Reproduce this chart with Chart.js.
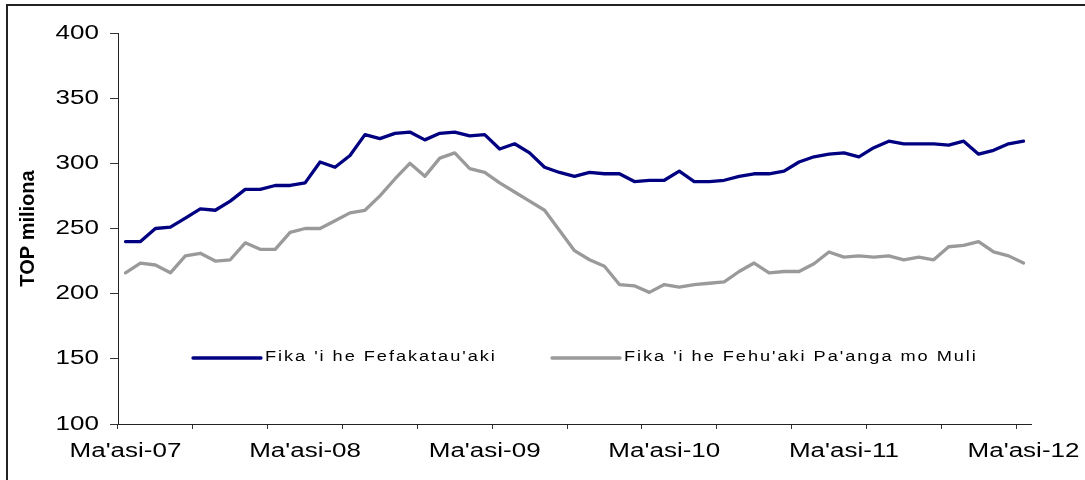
<!DOCTYPE html>
<html>
<head>
<meta charset="utf-8">
<script src="https://cdn.jsdelivr.net/npm/chart.js@4/dist/chart.umd.min.js"></script>
<style>
  html, body { margin: 0; padding: 0; background: #fff; overflow: hidden; }
  #wrap { position: relative; width: 1085px; height: 480px; overflow: hidden; }
  #frame { position: absolute; left: 6px; top: 4px; width: 1200px; height: 600px; border: 2px solid #222; box-sizing: border-box; }
  canvas { position: absolute; left: 0; top: 0; }
</style>
</head>
<body>
<div id="wrap">
  <div id="frame"></div>
  <canvas id="c" width="1085" height="480"></canvas>
</div>
<script>
// ---- data ----
const categories = [
  "Ma'asi-07", "'Epeleli-07", "Me-07", "Sune-07", "Siulai-07", "'Aokosi-07", "Sepitema-07", "'Okatopa-07", "Novema-07", "Tisema-07",
  "Sanuali-08", "Fepueli-08", "Ma'asi-08", "'Epeleli-08", "Me-08", "Sune-08", "Siulai-08", "'Aokosi-08", "Sepitema-08", "'Okatopa-08", "Novema-08", "Tisema-08",
  "Sanuali-09", "Fepueli-09", "Ma'asi-09", "'Epeleli-09", "Me-09", "Sune-09", "Siulai-09", "'Aokosi-09", "Sepitema-09", "'Okatopa-09", "Novema-09", "Tisema-09",
  "Sanuali-10", "Fepueli-10", "Ma'asi-10", "'Epeleli-10", "Me-10", "Sune-10", "Siulai-10", "'Aokosi-10", "Sepitema-10", "'Okatopa-10", "Novema-10", "Tisema-10",
  "Sanuali-11", "Fepueli-11", "Ma'asi-11", "'Epeleli-11", "Me-11", "Sune-11", "Siulai-11", "'Aokosi-11", "Sepitema-11", "'Okatopa-11", "Novema-11", "Tisema-11",
  "Sanuali-12", "Fepueli-12", "Ma'asi-12"
];

const tradeValues = [
  240, 240, 250, 251, 258, 265, 264, 271, 280, 280,
  283, 283, 285, 301, 297, 306, 322, 319, 323, 324, 318, 323,
  324, 321, 322, 311, 315, 308, 297, 293, 290, 293, 292, 292,
  286, 287, 287, 294, 286, 286, 287, 290, 292, 292, 294, 301,
  305, 307, 308, 305, 312, 317, 315, 315, 315, 314, 317, 307,
  310, 315, 317
];

const fxValues = [
  216, 223.5, 222, 216, 229, 231, 225, 226, 239, 234,
  234, 247, 250, 250, 256, 262, 264, 275, 288, 300, 290, 304,
  308, 296, 293, 285, 278, 271, 264, 248.5, 233, 226, 221, 207,
  206, 201, 207, 205, 207, 208, 209, 217, 223.5, 216, 217, 217,
  223, 232, 228, 229, 228, 229, 226, 228, 226, 236, 237, 240,
  232, 229, 223.5
];

const seriesNames = ["Fika 'i he Fefakatau'aki", "Fika 'i he Fehu'aki Pa'anga mo Muli"];
const yTickValues = [100, 150, 200, 250, 300, 350, 400];
const yAxisTitle = "TOP miliona";

// ---- rendering ----
const FONT = '"Liberation Sans", Arial, sans-serif';

// Text in the reference is horizontally widened; reproduce by scaling glyphs about their anchor.
const stretchPlugin = {
  id: 'stretch',
  beforeInit(chart) {
    const ctx = chart.ctx;
    const proto = CanvasRenderingContext2D.prototype;
    ctx.textStretch = 1;
    ctx.fillText = function (text, x, y) {
      const k = this.textStretch || 1;
      if (k === 1) return proto.fillText.call(this, text, x, y);
      this.save();
      this.translate(x, y);
      this.scale(k, 1);
      proto.fillText.call(this, text, 0, 0);
      this.restore();
    };
  },
  beforeDraw(chart) { chart.ctx.textStretch = 1.3; },
  afterDraw(chart) { chart.ctx.textStretch = 1; }
};

const overlayPlugin = {
  id: 'overlay',
  afterDraw(chart) {
    const { ctx, chartArea } = chart;
    // y-axis title
    ctx.save();
    ctx.textStretch = 1;
    ctx.font = 'bold 20px ' + FONT;
    ctx.fillStyle = '#000';
    ctx.textAlign = 'center';
    ctx.textBaseline = 'alphabetic';
    ctx.translate(34, (chartArea.top + chartArea.bottom) / 2);
    ctx.rotate(-Math.PI / 2);
    ctx.fillText(yAxisTitle, 0, 0);
    ctx.restore();

    // legend inside the plot area
    ctx.save();
    ctx.textStretch = 1.3;
    ctx.letterSpacing = '1.5px';
    ctx.font = '14px ' + FONT;
    ctx.fillStyle = '#000';
    ctx.textAlign = 'left';
    ctx.textBaseline = 'middle';
    const y = chartArea.top + 324;
    const offsets = [75, 434];
    chart.data.datasets.forEach((ds, i) => {
      const x = chartArea.left + offsets[i];
      ctx.strokeStyle = ds.borderColor;
      ctx.lineWidth = 3.3;
      ctx.lineCap = 'round';
      ctx.beginPath();
      ctx.moveTo(x, y + 1);
      ctx.lineTo(x + 68, y + 1);
      ctx.stroke();
      ctx.fillText(ds.label, x + 72, y);
    });
    ctx.letterSpacing = '0px';
    ctx.textStretch = 1;
    ctx.restore();
  }
};

new Chart(document.getElementById('c'), {
  type: 'line',
  data: {
    labels: categories,
    datasets: [
      { label: seriesNames[0], data: tradeValues, borderColor: '#000080', borderWidth: 3.3,
        pointRadius: 0, tension: 0, fill: false, borderJoinStyle: 'round', borderCapStyle: 'round' },
      { label: seriesNames[1], data: fxValues, borderColor: '#9a9a9a', borderWidth: 3.3,
        pointRadius: 0, tension: 0, fill: false, borderJoinStyle: 'round', borderCapStyle: 'round' }
    ]
  },
  options: {
    responsive: false,
    animation: false,
    devicePixelRatio: 1,
    layout: { padding: { left: 0, top: 33, right: 54, bottom: 0 } },
    plugins: {
      legend: { display: false },
      tooltip: { enabled: false }
    },
    scales: {
      x: {
        type: 'category',
        offset: true,
        afterFit: s => { s.height = 56; },
        grid: {
          offset: true,
          drawOnChartArea: false,
          drawTicks: true,
          tickLength: 5,
          lineWidth: 1,
          tickColor: c => (c.index % 5 === 0 ? '#333' : 'rgba(0,0,0,0)')
        },
        border: { display: true, color: '#222', width: 1 },
        ticks: {
          autoSkip: false,
          maxRotation: 0,
          minRotation: 0,
          padding: 10,
          color: '#000',
          font: { family: FONT, size: 20 },
          callback: (v, i) => (i % 12 === 0 ? categories[i] : '')
        }
      },
      y: {
        min: yTickValues[0],
        max: yTickValues[yTickValues.length - 1],
        afterFit: s => { s.width = 118; },
        afterBuildTicks: s => { s.ticks = yTickValues.map(v => ({ value: v })); },
        grid: {
          drawOnChartArea: false,
          drawTicks: true,
          tickLength: 8,
          tickColor: '#333'
        },
        border: { display: true, color: '#222', width: 1 },
        ticks: {
          padding: 11,
          color: '#000',
          font: { family: FONT, size: 20 }
        }
      }
    }
  },
  plugins: [stretchPlugin, overlayPlugin]
});
</script>
</body>
</html>
